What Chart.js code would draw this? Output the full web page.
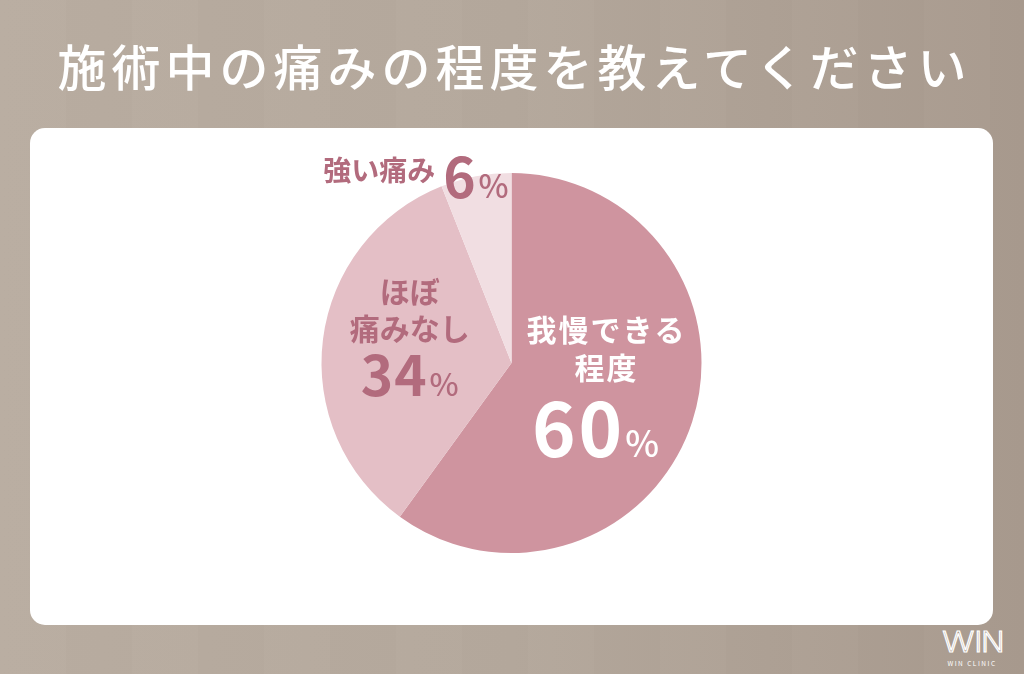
<!DOCTYPE html>
<html lang="ja">
<head>
<meta charset="utf-8">
<script src="https://cdn.jsdelivr.net/npm/chart.js@4.4.1/dist/chart.umd.min.js"></script>
<style>
  html, body { margin: 0; padding: 0; }
  body {
    width: 1024px; height: 674px; overflow: hidden; position: relative;
    background: linear-gradient(90deg, #b9ada1 0%, #b4a89c 50%, #a89a8e 100%);
    font-family: "Noto Sans CJK JP", "Noto Sans", sans-serif;
  }
  .stripes {
    position: absolute; inset: 0;
    background: repeating-linear-gradient(90deg, rgba(255,255,255,0.012) 0 66px, rgba(0,0,0,0.008) 66px 132px);
  }
  h1 {
    position: absolute; left: 0; top: 30px; width: 1024px; margin: 0;
    text-align: center; color: #fff; font-size: 49px; font-weight: 500;
    letter-spacing: 5px; line-height: 70px; text-indent: 5px;
  }
  .card {
    position: absolute; left: 30px; top: 128px; width: 963px; height: 497px;
    background: #fff; border-radius: 15px;
  }
  .logo { position: absolute; left: 936px; top: 628px; width: 72px; text-align: center; color: #fff; }
  .logo .big {
    font-family: "DejaVu Sans", sans-serif; font-size: 28px; font-weight: 300; line-height: 30px;
    color: transparent; -webkit-text-stroke: 1px #fff; letter-spacing: -3px;
    transform: scaleX(1.3); transform-origin: center;
  }
  .logo .small { font-size: 6.5px; letter-spacing: 1.5px; line-height: 9px; margin-top: 1px; }
</style>
</head>
<body>
<div class="stripes"></div>
<h1>施術中の痛みの程度を教えてください</h1>
<div class="card"><canvas id="pie" width="963" height="497"></canvas></div>
<div class="logo"><div class="big">WIN</div><div class="small">WIN CLINIC</div></div>
<script>
// chart data
const categories = ['我慢できる程度', 'ほぼ痛みなし', '強い痛み'];
const values = [60, 34, 6];
const sliceColors = ['#cf949f', '#e4bfc6', '#f1dee2'];

// label text per slice (lines above the percentage)
const labelLines = [['我慢できる', '程度'], ['ほぼ', '痛みなし'], ['強い痛み']];
const labelStyle = [
  { color: '#ffffff', factor: 0.52, dx: 0, dy: -2, textSize: 30, textSpacing: 2, lineGap: 38, numSize: 74, numSpacing: 3, numDx: -10, pctSize: 36, numGap: 86, inline: false },
  { color: '#b26b7d', factor: 0.54, dx: 0, dy: -10, textSize: 30, textSpacing: 0, lineGap: 37, numSize: 55, numSpacing: 1, numDx: 0, pctSize: 31, numGap: 60, inline: false },
  { color: '#b26b7d', factor: 1.0, dx: -60, dy: 2, textSize: 28, textSpacing: 0, lineGap: 0, numSize: 55, numSpacing: 0, numDx: 0, pctSize: 32, numGap: 0, inline: true }
];

const FONT = '"Noto Sans CJK JP", "Noto Sans", sans-serif';

const sliceLabels = {
  id: 'sliceLabels',
  afterDatasetsDraw(chart) {
    const ctx = chart.ctx;
    const meta = chart.getDatasetMeta(0);
    meta.data.forEach((arc, i) => {
      const st = labelStyle[i];
      const mid = (arc.startAngle + arc.endAngle) / 2;
      const cx = arc.x + Math.cos(mid) * arc.outerRadius * st.factor + st.dx;
      const cy = arc.y + Math.sin(mid) * arc.outerRadius * st.factor + st.dy;
      const num = String(values[i]);
      ctx.save();
      ctx.fillStyle = st.color;
      if (st.inline) {
        const txt = labelLines[i][0];
        ctx.font = `bold ${st.textSize}px ${FONT}`;
        const tw = ctx.measureText(txt).width + 8;
        ctx.font = `bold ${st.numSize}px ${FONT}`;
        const nw = ctx.measureText(num).width + 3;
        ctx.font = `500 ${st.pctSize}px ${FONT}`;
        const pw = ctx.measureText('%').width;
        let x = cx - (tw + nw + pw) / 2;
        ctx.textAlign = 'left';
        ctx.textBaseline = 'middle';
        ctx.font = `bold ${st.textSize}px ${FONT}`;
        ctx.fillText(txt, x, cy - 8);
        x += tw;
        ctx.textBaseline = 'alphabetic';
        ctx.font = `bold ${st.numSize}px ${FONT}`;
        ctx.fillText(num, x, cy + 20);
        x += nw;
        ctx.font = `500 ${st.pctSize}px ${FONT}`;
        ctx.fillText('%', x, cy + 20);
      } else {
        const lines = labelLines[i];
        const total = lines.length * st.lineGap + st.numGap;
        let y = cy - total / 2;
        ctx.textAlign = 'center';
        ctx.textBaseline = 'middle';
        ctx.font = `bold ${st.textSize}px ${FONT}`;
        ctx.letterSpacing = st.textSpacing + 'px';
        lines.forEach(line => {
          ctx.fillText(line, cx + st.textSpacing / 2, y + st.lineGap / 2);
          y += st.lineGap;
        });
        ctx.font = `bold ${st.numSize}px ${FONT}`;
        ctx.letterSpacing = st.numSpacing + 'px';
        const nw = ctx.measureText(num).width + 3 - st.numSpacing;
        ctx.letterSpacing = '0px';
        ctx.font = `500 ${st.pctSize}px ${FONT}`;
        const pw = ctx.measureText('%').width;
        const x0 = cx + st.numDx - (nw + pw) / 2;
        const base = y + st.numGap * 0.82;
        ctx.textAlign = 'left';
        ctx.textBaseline = 'alphabetic';
        ctx.font = `bold ${st.numSize}px ${FONT}`;
        ctx.letterSpacing = st.numSpacing + 'px';
        ctx.fillText(num, x0, base);
        ctx.letterSpacing = '0px';
        ctx.font = `500 ${st.pctSize}px ${FONT}`;
        ctx.fillText('%', x0 + nw, base);
      }
      ctx.restore();
    });
  }
};

new Chart(document.getElementById('pie'), {
  type: 'pie',
  data: {
    labels: categories,
    datasets: [{
      data: values,
      backgroundColor: sliceColors,
      borderColor: '#ffffff',
      borderWidth: 0
    }]
  },
  options: {
    responsive: false,
    animation: false,
    layout: { padding: { top: 45, bottom: 72, left: 0, right: 0 } },
    plugins: {
      legend: { display: false },
      tooltip: { enabled: false }
    }
  },
  plugins: [sliceLabels]
});
</script>
</body>
</html>
